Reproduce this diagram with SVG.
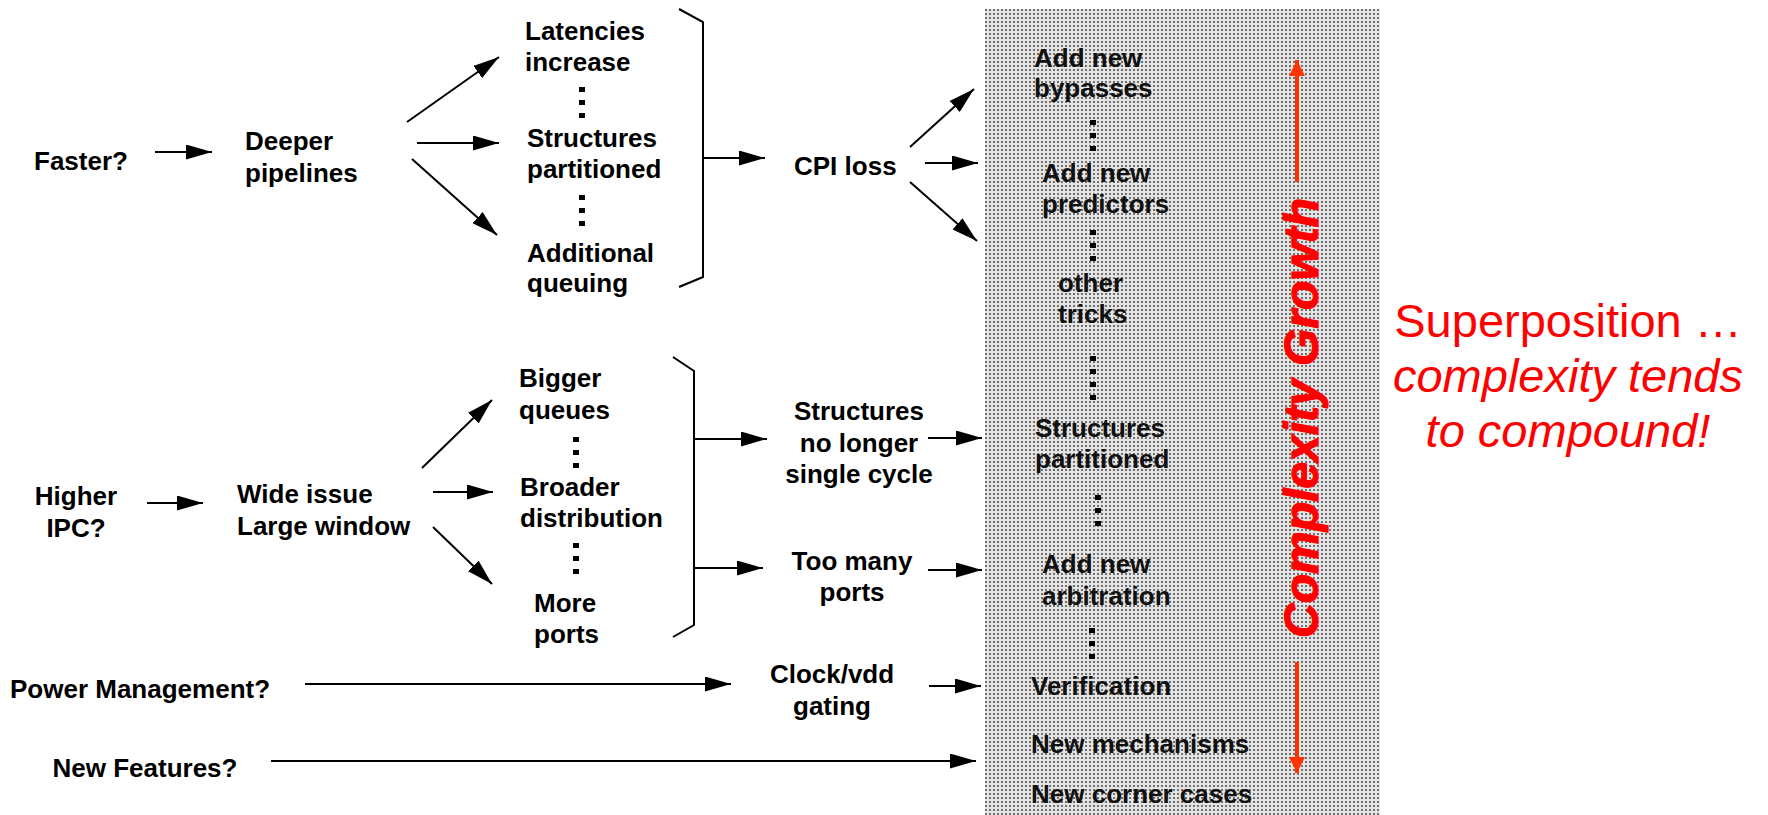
<svg xmlns="http://www.w3.org/2000/svg" width="1768" height="815" viewBox="0 0 1768 815">
  <style>
    text { font-family: "Liberation Sans", Arial, sans-serif; }
    .lbl { font-size: 26px; font-weight: bold; fill: #000; }
    .pnl { font-size: 26px; font-weight: bold; fill: #111; }
    .mid { text-anchor: middle; }
    .arr { stroke: #000; stroke-width: 2; fill: none; marker-end: url(#head); }
    .brace { stroke: #000; stroke-width: 2; fill: none; }
    .dots { stroke: #000; stroke-width: 6; stroke-dasharray: 5 8; fill: none; }
    .redarr { stroke: #ff3300; stroke-width: 4; fill: none; marker-end: url(#redhead); }
    .growth { font-size: 48px; font-weight: bold; font-style: italic; fill: #ff0000; stroke: #ff0000; stroke-width: 1.2; text-anchor: middle; }
    .note { font-size: 47px; fill: #ff0000; text-anchor: middle; }
  </style>
  <defs>
    <marker id="head" viewBox="0 0 26 15" refX="26" refY="7.5" markerWidth="26" markerHeight="15" markerUnits="userSpaceOnUse" orient="auto">
      <path d="M0,0 L26,7.5 L0,15 Z" fill="#000"/>
    </marker>
    <marker id="redhead" viewBox="0 0 16 16" refX="16" refY="8" markerWidth="16" markerHeight="16" markerUnits="userSpaceOnUse" orient="auto">
      <path d="M0,0 L16,8 L0,16 Z" fill="#ff3300"/>
    </marker>
    <pattern id="stipple" width="4" height="4" patternUnits="userSpaceOnUse">
      <rect width="4" height="4" fill="#e4e4e4"/>
      <rect x="1" y="1" width="2" height="2" fill="#707070"/>
    </pattern>
  </defs>

  <rect width="1768" height="815" fill="#fff"/>

  <!-- stippled column collecting the added mechanisms -->
  <g id="mechanism-panel">
    <rect x="985" y="9" width="395" height="806" fill="url(#stipple)"/>
  </g>

  <!-- first row: clock speed -->
  <g id="faster"><text class="lbl mid" x="81" y="170">Faster?</text></g>
  <g id="deeper-pipelines">
    <text class="lbl" x="245" y="150">Deeper</text>
    <text class="lbl" x="245" y="182">pipelines</text>
  </g>
  <g id="latencies-increase">
    <text class="lbl" x="525" y="40">Latencies</text>
    <text class="lbl" x="525" y="71">increase</text>
    <line class="dots" x1="582" y1="87" x2="582" y2="119"/>
  </g>
  <g id="structures-partitioned">
    <text class="lbl" x="527" y="147">Structures</text>
    <text class="lbl" x="527" y="178">partitioned</text>
    <line class="dots" x1="582" y1="195" x2="582" y2="227"/>
  </g>
  <g id="additional-queuing">
    <text class="lbl" x="527" y="262">Additional</text>
    <text class="lbl" x="527" y="292">queuing</text>
  </g>
  <g id="cpi-loss"><text class="lbl" x="794" y="175">CPI loss</text></g>

  <!-- second row: instruction throughput -->
  <g id="higher-ipc">
    <text class="lbl mid" x="76" y="505">Higher</text>
    <text class="lbl mid" x="76" y="537">IPC?</text>
  </g>
  <g id="wide-issue">
    <text class="lbl" x="237" y="503">Wide issue</text>
    <text class="lbl" x="237" y="535">Large window</text>
  </g>
  <g id="bigger-queues">
    <text class="lbl" x="519" y="387">Bigger</text>
    <text class="lbl" x="519" y="419">queues</text>
    <line class="dots" x1="576" y1="437" x2="576" y2="469"/>
  </g>
  <g id="broader-distribution">
    <text class="lbl" x="520" y="496">Broader</text>
    <text class="lbl" x="520" y="527">distribution</text>
    <line class="dots" x1="576" y1="543" x2="576" y2="575"/>
  </g>
  <g id="more-ports">
    <text class="lbl" x="534" y="612">More</text>
    <text class="lbl" x="534" y="643">ports</text>
  </g>
  <g id="not-single-cycle">
    <text class="lbl mid" x="859" y="420">Structures</text>
    <text class="lbl mid" x="859" y="452">no longer</text>
    <text class="lbl mid" x="859" y="483">single cycle</text>
  </g>
  <g id="too-many-ports">
    <text class="lbl mid" x="852" y="570">Too many</text>
    <text class="lbl mid" x="852" y="601">ports</text>
  </g>

  <!-- power and features -->
  <g id="power-management"><text class="lbl" x="10" y="698">Power Management?</text></g>
  <g id="clock-gating">
    <text class="lbl mid" x="832" y="683">Clock/vdd</text>
    <text class="lbl mid" x="832" y="715">gating</text>
  </g>
  <g id="new-features"><text class="lbl mid" x="145" y="777">New Features?</text></g>

  <!-- items inside the panel -->
  <g id="panel-bypasses">
    <text class="pnl" x="1034" y="67">Add new</text>
    <text class="pnl" x="1034" y="97">bypasses</text>
    <line class="dots" x1="1093" y1="120" x2="1093" y2="152"/>
  </g>
  <g id="panel-predictors">
    <text class="pnl" x="1042" y="182">Add new</text>
    <text class="pnl" x="1042" y="213">predictors</text>
    <line class="dots" x1="1093" y1="230" x2="1093" y2="262"/>
  </g>
  <g id="panel-tricks">
    <text class="pnl" x="1058" y="292">other</text>
    <text class="pnl" x="1058" y="323">tricks</text>
    <line class="dots" x1="1093" y1="356" x2="1093" y2="401"/>
  </g>
  <g id="panel-partitioned">
    <text class="pnl" x="1035" y="437">Structures</text>
    <text class="pnl" x="1035" y="468">partitioned</text>
    <line class="dots" x1="1098" y1="495" x2="1098" y2="527"/>
  </g>
  <g id="panel-arbitration">
    <text class="pnl" x="1042" y="573">Add new</text>
    <text class="pnl" x="1042" y="605">arbitration</text>
    <line class="dots" x1="1092" y1="628" x2="1092" y2="660"/>
  </g>
  <g id="panel-verification"><text class="pnl" x="1031" y="695">Verification</text></g>
  <g id="panel-mechanisms"><text class="pnl" x="1031" y="753">New mechanisms</text></g>
  <g id="panel-corner-cases"><text class="pnl" x="1031" y="803">New corner cases</text></g>

  <g id="complexity-growth">
    <line class="redarr" x1="1297" y1="182" x2="1297" y2="60"/>
    <line class="redarr" x1="1297" y1="662" x2="1297" y2="773"/>
    <text class="growth" transform="translate(1318,418) rotate(-90)">Complexity Growth</text>
  </g>

  <g id="superposition-note">
    <text class="note" x="1568" y="337">Superposition …</text>
    <text class="note" x="1568" y="392" font-style="italic">complexity tends</text>
    <text class="note" x="1568" y="447" font-style="italic">to compound!</text>
  </g>

  <g id="connectors">
    <line class="arr" x1="155" y1="152" x2="212" y2="152"/>
    <line class="arr" x1="407" y1="122" x2="499" y2="57"/>
    <line class="arr" x1="417" y1="143" x2="499" y2="143"/>
    <line class="arr" x1="412" y1="159" x2="497" y2="235"/>
    <path class="brace" d="M679,9 L703,22 L703,277 L679,287"/>
    <line class="arr" x1="703" y1="158" x2="765" y2="158"/>
    <line class="arr" x1="910" y1="147" x2="974" y2="89"/>
    <line class="arr" x1="925" y1="163" x2="978" y2="163"/>
    <line class="arr" x1="910" y1="182" x2="977" y2="241"/>

    <line class="arr" x1="147" y1="503" x2="203" y2="503"/>
    <line class="arr" x1="422" y1="468" x2="492" y2="400"/>
    <line class="arr" x1="433" y1="492" x2="493" y2="492"/>
    <line class="arr" x1="433" y1="527" x2="492" y2="584"/>
    <path class="brace" d="M673,357 L694,371 L694,625 L673,637"/>
    <line class="arr" x1="694" y1="439" x2="767" y2="439"/>
    <line class="arr" x1="694" y1="568" x2="763" y2="568"/>
    <line class="arr" x1="928" y1="438" x2="982" y2="438"/>
    <line class="arr" x1="928" y1="570" x2="982" y2="570"/>

    <line class="arr" x1="305" y1="684" x2="731" y2="684"/>
    <line class="arr" x1="929" y1="686" x2="981" y2="686"/>
    <line class="arr" x1="271" y1="761" x2="976" y2="761"/>
  </g>
</svg>
